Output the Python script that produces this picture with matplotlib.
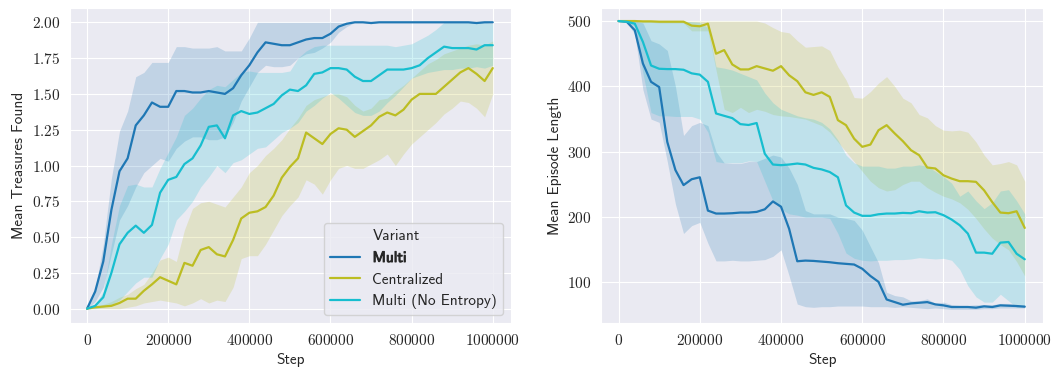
import matplotlib.pyplot as plt
import matplotlib.patheffects as pe
from matplotlib.lines import Line2D
from matplotlib.ticker import FuncFormatter, MultipleLocator
import seaborn as sns

sns.set_style('darkgrid')
plt.rcParams['font.family'] = ['cmss10', 'DejaVu Sans']
plt.rcParams['mathtext.fontset'] = 'cm'
plt.rcParams['axes.unicode_minus'] = False
plt.rcParams['font.size'] = 11

# training steps (every 20000)
steps = list(range(0, 1000001, 20000))

variants = ['Multi', 'Centralized', 'Multi (No Entropy)']
colors = ['#1f77b4', '#bcbd22', '#17becf']

# ---- Mean Treasures Found ----
treasure_multi = [0, 0.12, 0.33, 0.69, 0.96, 1.05, 1.28, 1.35, 1.44, 1.41,
                  1.41, 1.52, 1.52, 1.51, 1.51, 1.52, 1.51, 1.50, 1.54, 1.63,
                  1.70, 1.79, 1.86, 1.85, 1.84, 1.84, 1.86, 1.88, 1.89, 1.89,
                  1.92, 1.97, 1.99, 2.0, 2.0, 1.995, 2.0, 2.0, 2.0, 2.0,
                  2.0, 2.0, 2.0, 2.0, 2.0, 2.0, 2.0, 2.0, 1.995, 2.0, 2.0]
treasure_multi_lo = [0, 0.05, 0.15, 0.38, 0.62, 0.72, 0.85, 0.95, 1.00, 1.05,
                     1.03, 1.12, 1.17, 1.20, 1.20, 1.18, 1.18, 1.20, 1.30, 1.45,
                     1.55, 1.65, 1.70, 1.69, 1.69, 1.70, 1.75, 1.78, 1.79, 1.82,
                     1.86, 1.93, 1.97, 2.0, 2.0, 1.99, 2.0, 2.0, 2.0, 2.0,
                     2.0, 2.0, 2.0, 2.0, 2.0, 2.0, 2.0, 2.0, 1.99, 2.0, 2.0]
treasure_multi_hi = [0, 0.14, 0.45, 0.91, 1.24, 1.38, 1.62, 1.65, 1.72, 1.72,
                     1.72, 1.83, 1.83, 1.82, 1.82, 1.82, 1.83, 1.80, 1.80, 1.80,
                     1.89, 2.0, 2.0, 2.0, 2.0, 2.0, 2.0, 2.0, 2.0, 2.0,
                     2.0, 2.0, 2.0, 2.0, 2.0, 2.0, 2.0, 2.0, 2.0, 2.0,
                     2.0, 2.0, 2.0, 2.0, 2.0, 2.0, 2.0, 2.0, 2.0, 2.0, 2.0]

treasure_central = [0, 0.01, 0.015, 0.02, 0.04, 0.07, 0.07, 0.125, 0.17, 0.22,
                    0.195, 0.17, 0.32, 0.30, 0.41, 0.43, 0.38, 0.365, 0.48, 0.63,
                    0.67, 0.68, 0.71, 0.79, 0.915, 0.99, 1.05, 1.23, 1.19, 1.15,
                    1.22, 1.26, 1.25, 1.20, 1.24, 1.28, 1.34, 1.37, 1.35, 1.39,
                    1.46, 1.50, 1.50, 1.50, 1.55, 1.60, 1.65, 1.68, 1.64, 1.59, 1.68]
treasure_central_lo = [0, 0, 0, 0, 0, 0.01, 0.02, 0.04, 0.05, 0.06,
                       0.05, 0.04, 0.02, 0.04, 0.07, 0.04, 0.06, 0.05, 0.15, 0.35,
                       0.37, 0.37, 0.45, 0.55, 0.65, 0.72, 0.78, 0.90, 0.87, 0.80,
                       0.90, 0.98, 1.00, 0.98, 0.98, 1.01, 1.04, 1.08, 1.00, 1.08,
                       1.15, 1.20, 1.25, 1.30, 1.36, 1.40, 1.45, 1.44, 1.40, 1.34, 1.50]
treasure_central_hi = [0, 0.01, 0.03, 0.05, 0.08, 0.10, 0.14, 0.17, 0.25, 0.34,
                       0.36, 0.33, 0.55, 0.70, 0.74, 0.75, 0.73, 0.71, 0.78, 0.85,
                       0.95, 1.00, 1.07, 1.12, 1.18, 1.26, 1.33, 1.42, 1.46, 1.48,
                       1.50, 1.50, 1.48, 1.42, 1.38, 1.40, 1.46, 1.47, 1.52, 1.56,
                       1.61, 1.66, 1.71, 1.74, 1.78, 1.80, 1.82, 1.84, 1.85, 1.84, 1.87]

treasure_noent = [0, 0.02, 0.08, 0.25, 0.45, 0.53, 0.58, 0.53, 0.585, 0.81,
                  0.90, 0.92, 1.01, 1.05, 1.14, 1.27, 1.28, 1.19, 1.35, 1.38,
                  1.36, 1.37, 1.40, 1.43, 1.49, 1.53, 1.52, 1.56, 1.64, 1.65,
                  1.68, 1.68, 1.67, 1.62, 1.59, 1.59, 1.63, 1.67, 1.67, 1.67,
                  1.68, 1.70, 1.75, 1.79, 1.83, 1.82, 1.82, 1.82, 1.81, 1.84, 1.84]
treasure_noent_lo = [0, 0, 0.01, 0.03, 0.06, 0.12, 0.18, 0.22, 0.22, 0.35,
                     0.45, 0.62, 0.68, 0.75, 0.85, 0.92, 1.00, 0.95, 1.02, 1.04,
                     1.08, 1.12, 1.13, 1.18, 1.23, 1.26, 1.30, 1.38, 1.42, 1.47,
                     1.51, 1.47, 1.42, 1.37, 1.35, 1.35, 1.38, 1.44, 1.49, 1.55,
                     1.61, 1.63, 1.65, 1.66, 1.67, 1.67, 1.68, 1.68, 1.69, 1.68, 1.70]
treasure_noent_hi = [0, 0.03, 0.12, 0.45, 0.72, 0.86, 0.87, 0.85, 0.85, 0.98,
                     1.09, 1.20, 1.35, 1.40, 1.47, 1.53, 1.56, 1.55, 1.60, 1.65,
                     1.66, 1.65, 1.65, 1.65, 1.65, 1.66, 1.75, 1.80, 1.83, 1.84,
                     1.84, 1.84, 1.84, 1.84, 1.84, 1.84, 1.84, 1.84, 1.83, 1.84,
                     1.85, 1.88, 1.91, 1.95, 2.0, 2.0, 2.0, 2.0, 2.0, 2.0, 1.99]

# ---- Mean Episode Length ----
length_multi = [500, 499, 486, 435, 407, 399, 315, 272, 249, 258,
                261, 210, 205.5, 205.5, 206, 207, 207, 208, 212, 224,
                216, 182, 132.5, 133.5, 133, 132, 131, 129.5, 128.5, 127.5,
                121, 110, 101, 74, 70, 66, 68, 69, 70, 66.5,
                65, 62.5, 62.5, 62.5, 61.5, 63.5, 62.5, 65, 64.5, 64, 63]
length_multi_lo = [500, 498, 480, 395, 350, 345, 285, 220, 175, 187,
                   192, 160, 133, 133, 134, 133, 133, 134, 135, 140,
                   150, 110, 67, 63, 62, 63, 63, 64, 64, 64,
                   64, 63, 63, 63, 62, 63, 62, 61, 60, 61,
                   60, 59, 59, 59, 59, 60, 60, 61, 61, 61, 61]
length_multi_hi = [500, 500, 500, 497, 470, 465, 455, 400, 325, 340,
                   345, 340, 300, 283, 282, 282, 285, 285, 290, 295,
                   292, 275, 250, 210, 205, 205, 205, 200, 198, 195,
                   180, 155, 130, 85, 80, 78, 72, 72, 75, 68,
                   70, 66, 65, 65, 66, 66, 66, 68, 68, 66, 66]

length_central = [500, 500, 500, 499.5, 499.5, 499, 499, 499, 499, 493,
                  492, 496, 450, 455.6, 433.6, 426, 426, 431, 427.5, 424,
                  431, 417, 408, 391, 387, 391, 384, 348.4, 340.7, 320,
                  307.6, 311, 333, 340.7, 328, 316.2, 302.4, 294.8, 275.9, 274.4,
                  264, 259, 255, 255, 254, 241, 223, 207, 206, 209, 183.5]
length_central_lo = [500, 499, 499, 498, 498, 497, 497, 497, 497, 485,
                     485, 485, 425, 365, 360, 368, 360, 365, 362, 357,
                     355, 354, 352, 350, 345, 340, 330, 315, 300, 285,
                     270, 255, 245, 240, 242, 250, 255, 255, 245, 238,
                     232, 228, 222, 212, 198, 182, 168, 158, 150, 132, 110]
length_central_hi = [500, 500, 500, 500, 500, 500, 500, 500, 500, 500,
                     500, 500, 500, 500, 500, 500, 500, 500, 497, 490,
                     484, 482, 470, 460, 461, 462, 455, 430, 410, 383,
                     382, 392, 405, 415, 400, 382, 375, 357, 352, 340,
                     333, 332, 333, 330, 315, 295, 280, 282, 285, 280, 255]

length_noent = [500, 499, 496, 468, 432, 427, 426.5, 426.5, 425.5, 420,
                418, 407, 358.6, 355, 351.5, 342.3, 341, 344, 297, 280.5,
                279.5, 280.5, 282, 280.5, 275.4, 273, 269, 261, 218, 207,
                202, 202, 204.4, 205.5, 205.5, 206.5, 206, 209, 207, 207.5,
                203, 196.3, 187.6, 174.8, 145.7, 145.7, 144, 161, 162, 144, 135.5]
length_noent_lo = [500, 498, 492, 420, 360, 355, 355, 354, 354, 354,
                   350, 330, 285, 283, 283, 283, 286, 285, 255, 225,
                   212, 205, 203, 200, 200, 200, 198, 175, 145, 137,
                   134, 133, 134, 134, 135, 135, 136, 138, 137, 136,
                   137, 134, 120, 95, 78, 70, 70, 82, 72, 62, 63]
length_noent_hi = [500, 500, 500, 500, 500, 500, 500, 500, 500, 499,
                   498, 490, 430, 428, 425, 420, 415, 410, 390, 375,
                   365, 360, 355, 352, 350, 345, 335, 318, 295, 283,
                   278, 278, 278, 275, 275, 278, 278, 280, 278, 270,
                   262, 252, 232, 240, 225, 213, 222, 240, 242, 225, 205]

treasure = [(treasure_multi, treasure_multi_lo, treasure_multi_hi),
            (treasure_central, treasure_central_lo, treasure_central_hi),
            (treasure_noent, treasure_noent_lo, treasure_noent_hi)]
length = [(length_multi, length_multi_lo, length_multi_hi),
          (length_central, length_central_lo, length_central_hi),
          (length_noent, length_noent_lo, length_noent_hi)]

fig = plt.figure(figsize=(10.56, 3.73), dpi=100)
ax1 = fig.add_axes([0.0663, 0.134, 0.4176, 0.8446])
ax2 = fig.add_axes([0.5696, 0.134, 0.4181, 0.8446])

for ax, data in [(ax1, treasure), (ax2, length)]:
    for (mean, lo, hi), c in zip(data, colors):
        ax.plot(steps, mean, color=c, lw=1.6)
        ax.fill_between(steps, lo, hi, color=c, alpha=0.2, linewidth=0)
    ax.set_xlim(-42000, 1045000)
    ax.xaxis.set_major_locator(MultipleLocator(200000))
    ax.xaxis.set_major_formatter(FuncFormatter(lambda v, p: '$%d$' % v))
    ax.set_xlabel('Step')

ax1.set_ylim(-0.1, 2.1)
ax1.yaxis.set_major_locator(MultipleLocator(0.25))
ax1.yaxis.set_major_formatter(FuncFormatter(lambda v, p: '$%.2f$' % v))
ax1.set_ylabel('Mean Treasures Found')

ax2.set_ylim(38, 520)
ax2.yaxis.set_major_locator(MultipleLocator(100))
ax2.yaxis.set_major_formatter(FuncFormatter(lambda v, p: '$%d$' % v))
ax2.set_ylabel('Mean Episode Length')

handles = [Line2D([], [], color='none')] + [Line2D([], [], color=c, lw=1.6) for c in colors]
leg = ax1.legend(handles, ['Variant'] + variants, loc='lower right', fontsize=11)
leg.get_texts()[1].set_path_effects([pe.withStroke(linewidth=0.7, foreground='#262626')])

fig.savefig('out.png', dpi=100)
